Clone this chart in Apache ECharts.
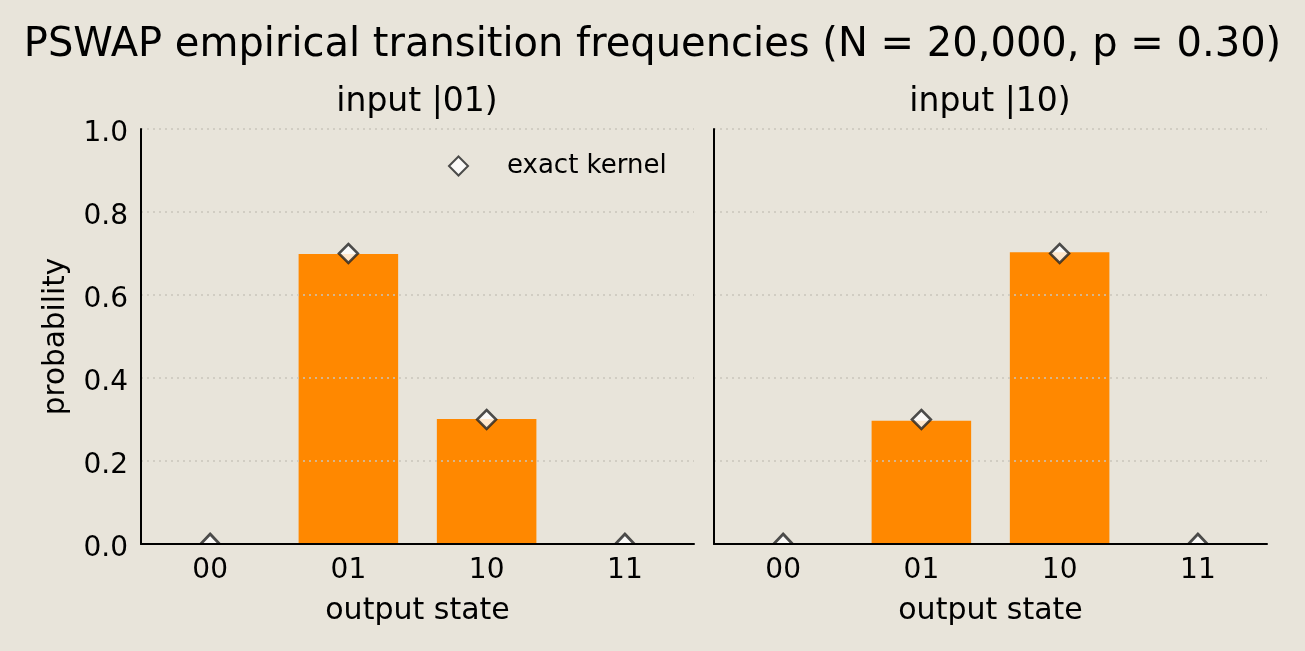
<!DOCTYPE html>
<html>
<head>
<meta charset="utf-8">
<script src="https://cdn.jsdelivr.net/npm/echarts@6/dist/echarts.min.js"></script>
<style>
  html, body { margin: 0; padding: 0; background: #e8e4da; }
  #chart { width: 1305px; height: 651px; }
</style>
</head>
<body>
<div id="chart"></div>
<script>
// data
const states = ["00", "01", "10", "11"];
const empirical01 = [0, 0.699, 0.301, 0]; // input |01>
const empirical10 = [0, 0.297, 0.703, 0]; // input |10>
const exact01 = [0, 0.7, 0.3, 0];
const exact10 = [0, 0.3, 0.7, 0];
const yTicks = [0, 0.2, 0.4, 0.6, 0.8, 1.0];

const FONT = "DejaVu Sans";
const BAR = "#ff8800";
const INK = "#000000";

// zero-valued kernel markers sit half under the x axis, so draw only the top half
const kernelPoints = (vals) =>
  vals.map((v) =>
    v === 0
      ? { value: v, symbol: "triangle", symbolSize: [19, 10], symbolOffset: [0, -5] }
      : { value: v }
  );

const xAxisFor = (gridIndex) => ({
  type: "category",
  gridIndex: gridIndex,
  data: states,
  z: 10,
  axisLine: { lineStyle: { color: INK, width: 2 } },
  axisTick: { show: false },
  axisLabel: { color: INK, fontSize: 28, margin: 13, fontFamily: FONT },
  name: "output state",
  nameLocation: "middle",
  nameGap: 52,
  nameTextStyle: { color: INK, fontSize: 30, fontFamily: FONT },
});

const yAxisFor = (gridIndex, showLabels) => ({
  type: "value",
  gridIndex: gridIndex,
  min: yTicks[0],
  max: yTicks[yTicks.length - 1],
  interval: 0.2,
  z: 10,
  axisLine: { show: true, lineStyle: { color: INK, width: 2 } },
  axisTick: { show: false },
  axisLabel: {
    show: showLabels,
    color: INK,
    fontSize: 28,
    margin: 13,
    verticalAlign: "top",
    lineHeight: 9,
    fontFamily: FONT,
    formatter: (v) => v.toFixed(1),
  },
  splitLine: { show: true, lineStyle: { color: "#c9c5bc", width: 1.5, type: [2, 4] } },
  name: showLabels ? "probability" : "",
  nameLocation: "middle",
  nameGap: 70,
  nameTextStyle: { color: INK, fontSize: 29.5, fontFamily: FONT },
});

const kernelStyle = { color: "#ffffff", borderColor: "#222222", borderWidth: 2.5 };

const chart = echarts.init(document.getElementById("chart"));
chart.setOption({
  backgroundColor: "#e8e4da",
  animation: false,
  textStyle: { fontFamily: FONT },
  title: [
    {
      text: "PSWAP empirical transition frequencies (N = 20,000, p = 0.30)",
      left: "center",
      top: 21,
      textStyle: { color: INK, fontSize: 40, fontWeight: "normal", fontFamily: FONT },
    },
    {
      text: "input |01)",
      left: 412,
      textAlign: "center",
      top: 81,
      textStyle: { color: INK, fontSize: 33, fontWeight: "normal", fontFamily: FONT },
    },
    {
      text: "input |10)",
      left: 985,
      textAlign: "center",
      top: 81,
      textStyle: { color: INK, fontSize: 33, fontWeight: "normal", fontFamily: FONT },
    },
  ],
  legend: {
    data: [{ name: "exact kernel", icon: "diamond" }],
    left: 443,
    top: 148,
    itemWidth: 19,
    itemHeight: 19,
    textStyle: { color: INK, fontSize: 26, padding: [0, 0, 0, 34], fontFamily: FONT },
  },
  grid: [
    { left: 141, right: 611, top: 129, bottom: 107 },
    { left: 714, right: 38, top: 129, bottom: 107 },
  ],
  xAxis: [xAxisFor(0), xAxisFor(1)],
  yAxis: [yAxisFor(0, true), yAxisFor(1, false)],
  series: [
    {
      name: "empirical",
      type: "bar",
      xAxisIndex: 0,
      yAxisIndex: 0,
      data: empirical01,
      barWidth: "72%",
      itemStyle: { color: BAR },
    },
    {
      name: "empirical",
      type: "bar",
      xAxisIndex: 1,
      yAxisIndex: 1,
      data: empirical10,
      barWidth: "72%",
      itemStyle: { color: BAR },
    },
    {
      name: "exact kernel",
      type: "scatter",
      xAxisIndex: 0,
      yAxisIndex: 0,
      symbol: "diamond",
      symbolSize: 19,
      data: kernelPoints(exact01),
      itemStyle: kernelStyle,
      z: 5,
    },
    {
      name: "exact kernel",
      type: "scatter",
      xAxisIndex: 1,
      yAxisIndex: 1,
      symbol: "diamond",
      symbolSize: 19,
      data: kernelPoints(exact10),
      itemStyle: kernelStyle,
      z: 5,
    },
  ],
});
</script>
</body>
</html>
